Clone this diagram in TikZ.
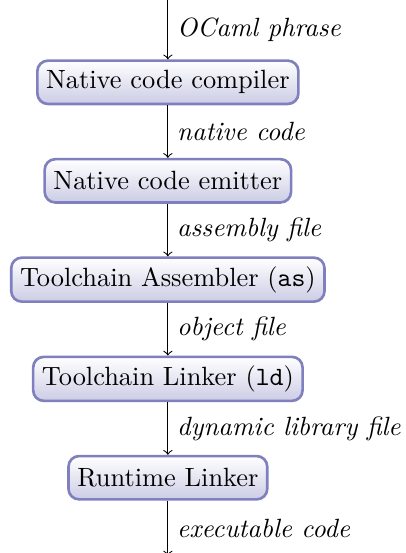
\documentclass[tikz,border=0pt]{standalone}
\usepackage{amsmath}
\usepackage{tikz}
\usetikzlibrary{positioning}

\begin{document}
\begin{tikzpicture}[
  stage/.style={draw=blue!50!black!50, line width=1pt, rounded corners,
    top color=white, bottom color=blue!50!black!20, align=center,
    minimum height=16.4pt},
  flow/.style={->},
  lbl/.style={right, font=\itshape},
  node distance=7mm
]
  \coordinate (src) at (0,0);
  \node[stage, below=7.9mm of src] (compiler) {Native code compiler};
  \node[stage, below=of compiler] (emitter) {Native code emitter};
  \node[stage, below=of emitter] (as) {Toolchain Assembler (\texttt{as})};
  \node[stage, below=of as] (ld) {Toolchain Linker (\texttt{ld})};
  \node[stage, below=of ld] (rtld) {Runtime Linker};
  \coordinate[below=7.3mm of rtld] (exe);

  \useasboundingbox (-63.6pt,0) rectangle (90.2pt,-209.5pt);

  \draw[flow] (src) -- node[lbl] {OCaml phrase} (compiler);
  \draw[flow] (compiler) -- node[lbl] {native code} (emitter);
  \draw[flow] (emitter) -- node[lbl] {assembly file} (as);
  \draw[flow] (as) -- node[lbl] {object file} (ld);
  \draw[flow] (ld) -- node[lbl] {dynamic library file} (rtld);
  \draw[flow] (rtld) -- node[lbl] {executable code} (exe);
\end{tikzpicture}
\end{document}
